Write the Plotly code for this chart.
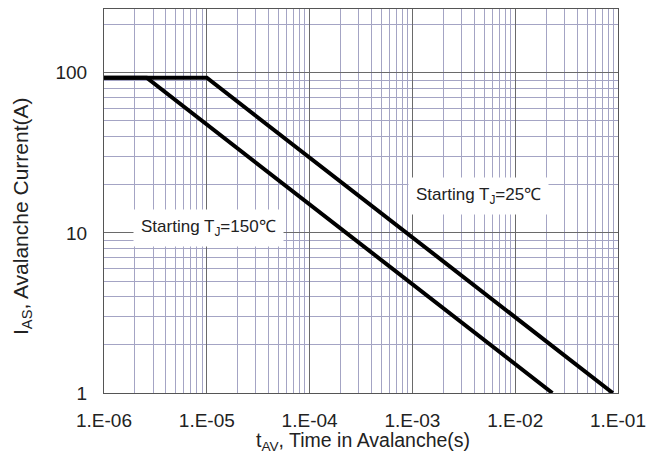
import numpy as np
import plotly.graph_objects as go

# Data
t_25 = [1e-6, 1e-5, 8.9e-2]
i_25 = [93, 93, 1]
t_150 = [1e-6, 2.6e-6, 2.3e-2]
i_150 = [93, 93, 1]

x_tickvals = [1e-6, 1e-5, 1e-4, 1e-3, 1e-2, 1e-1]
x_ticktext = ["1.E-06", "1.E-05", "1.E-04", "1.E-03", "1.E-02", "1.E-01"]
y_tickvals = [1, 10, 100]
y_ticktext = ["1", "10", "100"]

x_minor = [m * 10.0 ** e for e in range(-6, -1) for m in range(2, 10)]
y_minor = [m * 10.0 ** e for e in range(0, 3) for m in range(2, 10) if m * 10.0 ** e <= 250]

FONT = "Liberation Sans, Arial, sans-serif"
MAJOR = "#6a6a6a"
MINOR = "#a4a4c4"

fig = go.Figure()
fig.add_trace(go.Scatter(x=t_25, y=i_25, mode="lines",
                         line=dict(color="black", width=4), showlegend=False))
fig.add_trace(go.Scatter(x=t_150, y=i_150, mode="lines",
                         line=dict(color="black", width=4), showlegend=False))

axis_common = dict(
    type="log", showline=True, linecolor="#555555", linewidth=1, mirror=True,
    ticks="", showgrid=True, gridcolor=MAJOR, gridwidth=1,
    tickfont=dict(family=FONT, size=19, color="#222"),
    zeroline=False, automargin=False,
)

fig.update_xaxes(**axis_common, range=[-6, -1], tickmode="array",
                 tickvals=x_tickvals, ticktext=x_ticktext, ticklabelstandoff=10,
                 minor=dict(tickmode="array", tickvals=x_minor, showgrid=True,
                            gridcolor=MINOR, gridwidth=1, ticks=""))
fig.update_yaxes(**axis_common, range=[0, np.log10(250)], tickmode="array",
                 tickvals=y_tickvals, ticktext=y_ticktext, ticklabelstandoff=12,
                 minor=dict(tickmode="array", tickvals=y_minor, showgrid=True,
                            gridcolor=MINOR, gridwidth=1, ticks=""))

fig.add_annotation(x=np.log10(1.05e-5), y=np.log10(10.8), xref="x", yref="y",
                   text="Starting T<sub>J</sub>=150℃", showarrow=False,
                   font=dict(family=FONT, size=17, color="#222"),
                   bgcolor="white", borderpad=7)
fig.add_annotation(x=np.log10(4.35e-3), y=np.log10(17.1), xref="x", yref="y",
                   text="Starting T<sub>J</sub>=25℃", showarrow=False,
                   font=dict(family=FONT, size=17, color="#222"),
                   bgcolor="white", borderpad=7)

# axis titles placed as paper annotations (paper = plot area)
fig.add_annotation(x=0.504, y=-0.127, xref="paper", yref="paper",
                   text="t<sub>AV</sub>, Time in Avalanche(s)", showarrow=False,
                   font=dict(family=FONT, size=19.5, color="#222"),
                   xanchor="center", yanchor="middle")
fig.add_annotation(x=-0.1595, y=0.461, xref="paper", yref="paper",
                   text="I<sub>AS</sub>, Avalanche Current(A)", showarrow=False,
                   textangle=-90,
                   font=dict(family=FONT, size=21, color="#222"),
                   xanchor="center", yanchor="middle")

# page has an 8px body margin; figure sized to fit inside it
fig.update_layout(
    width=648, height=445,
    margin=dict(l=96, r=38, t=1, b=60),
    paper_bgcolor="white", plot_bgcolor="white",
)
fig.write_html("out.html")
